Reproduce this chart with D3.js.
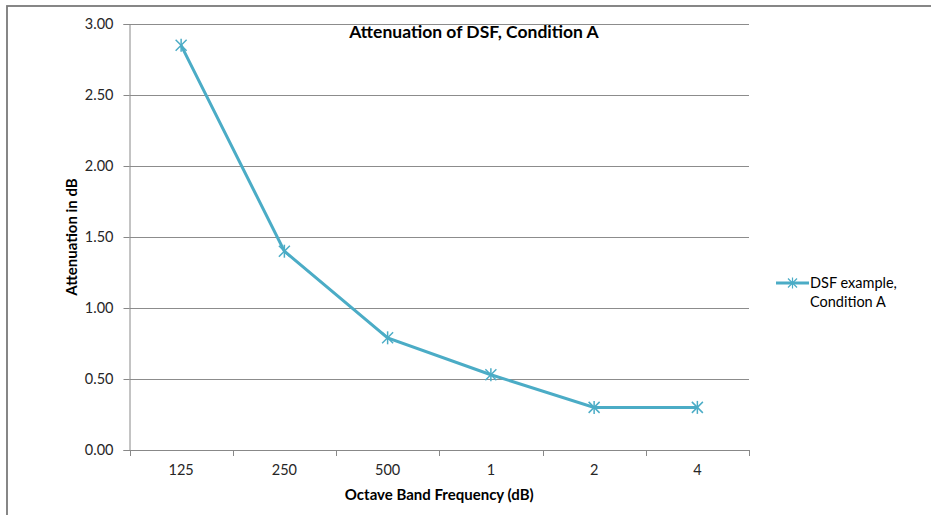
<!DOCTYPE html>
<html lang="en">
<head>
<meta charset="UTF-8">
<title>Attenuation of DSF, Condition A</title>
<script src="https://d3js.org/d3.v7.min.js"></script>
<style>
html, body { margin: 0; padding: 0; background: white; }
body { font-family: Lato, 'Noto Sans', sans-serif; }
.axis text { font-family: Lato, 'Noto Sans', sans-serif; font-size: 14.5px; fill: #262626; }
.axis path, .axis line { stroke: #888; }
.grid line { stroke: #8c8c8c; }
.title { font-size: 17.5px; font-weight: bold; fill: #000; }
.axis-title { font-size: 15px; font-weight: bold; fill: #000; }
.legend text { font-size: 14.5px; fill: #000; }
</style>
</head>
<body>
<div id="chart"></div>
<script>
// data
const categories = ["125", "250", "500", "1", "2", "4"];
const values = [2.85, 1.40, 0.79, 0.53, 0.30, 0.30];
const yTicks = [0, 0.5, 1.0, 1.5, 2.0, 2.5, 3.0];
const seriesName = ["DSF example,", "Condition A"];

const W = 931, H = 515;
const margin = {top: 24, right: 182, bottom: 65, left: 129.5};
const color = "#4BACC6";

const svg = d3.select("#chart").append("svg")
  .attr("width", W).attr("height", H);

// outer frame
svg.append("rect")
  .attr("x", 7).attr("y", 6)
  .attr("width", 940).attr("height", 530)
  .attr("fill", "white")
  .attr("stroke", "#7a7a7a").attr("stroke-width", 1.8);

const x = d3.scaleBand()
  .domain(categories)
  .range([margin.left, W - margin.right]);

const y = d3.scaleLinear()
  .domain([0, 3])
  .range([H - margin.bottom, margin.top]);

// gridlines
svg.append("g").attr("class", "grid")
  .selectAll("line")
  .data(yTicks.filter(d => d > 0))
  .join("line")
  .attr("x1", margin.left).attr("x2", W - margin.right)
  .attr("y1", d => Math.round(y(d)) + 0.5).attr("y2", d => Math.round(y(d)) + 0.5);

// y axis
const yAxis = svg.append("g").attr("class", "axis")
  .attr("transform", `translate(${margin.left},0)`)
  .call(d3.axisLeft(y).tickValues(yTicks).tickFormat(d3.format(".2f")).tickSize(6).tickPadding(10));
yAxis.select(".domain").attr("stroke", "#888");

// x axis, ticks on band edges
const edges = categories.map(c => x(c)).concat([x.range()[1]]);
const xAxis = svg.append("g").attr("class", "axis")
  .attr("transform", `translate(0,${y(0)})`);
xAxis.append("line")
  .attr("x1", margin.left).attr("x2", W - margin.right)
  .attr("y1", 0.5).attr("y2", 0.5);
xAxis.selectAll(".edge").data(edges).join("line")
  .attr("class", "edge")
  .attr("x1", d => Math.round(d) + 0.5).attr("x2", d => Math.round(d) + 0.5)
  .attr("y1", 0).attr("y2", 6);
xAxis.selectAll("text").data(categories).join("text")
  .attr("x", d => x(d) + x.bandwidth() / 2)
  .attr("y", 25)
  .attr("text-anchor", "middle")
  .text(d => d);

// line
const pts = categories.map((c, i) => ({c, v: values[i]}));
const line = d3.line()
  .x(d => x(d.c) + x.bandwidth() / 2)
  .y(d => y(d.v));

svg.append("path")
  .datum(pts)
  .attr("fill", "none")
  .attr("stroke", color)
  .attr("stroke-width", 3)
  .attr("d", line);

// asterisk markers
function star(g, s) {
  g.append("line").attr("x1", -s).attr("y1", -s).attr("x2", s).attr("y2", s);
  g.append("line").attr("x1", -s).attr("y1", s).attr("x2", s).attr("y2", -s);
  g.append("line").attr("x1", 0).attr("y1", -s - 1).attr("x2", 0).attr("y2", s + 1);
}
svg.selectAll(".marker").data(pts).join("g")
  .attr("class", "marker")
  .attr("transform", d => `translate(${x(d.c) + x.bandwidth() / 2},${y(d.v)})`)
  .attr("stroke", color).attr("stroke-width", 1.5)
  .each(function() { star(d3.select(this), 5.5); });

// titles
svg.append("text").attr("class", "title")
  .attr("x", 474).attr("y", 38)
  .attr("text-anchor", "middle")
  .text("Attenuation of DSF, Condition  A");

svg.append("text").attr("class", "axis-title")
  .attr("x", (margin.left + W - margin.right) / 2).attr("y", 500)
  .attr("text-anchor", "middle")
  .text("Octave Band Frequency (dB)");

svg.append("text").attr("class", "axis-title")
  .attr("transform", `translate(77,${(y(0) + y(3)) / 2}) rotate(-90)`)
  .attr("text-anchor", "middle")
  .text("Attenuation in dB");

// legend
const lg = svg.append("g").attr("class", "legend").attr("transform", "translate(776,283)");
lg.append("line").attr("x1", 0).attr("x2", 33).attr("y1", 0).attr("y2", 0)
  .attr("stroke", color).attr("stroke-width", 3);
const lm = lg.append("g").attr("transform", "translate(16.5,0)")
  .attr("stroke", color).attr("stroke-width", 1.2);
star(lm, 4.5);
lg.selectAll("text").data(seriesName).join("text")
  .attr("x", 34).attr("y", (d, i) => 5 + i * 19)
  .text(d => d);
</script>
</body>
</html>
